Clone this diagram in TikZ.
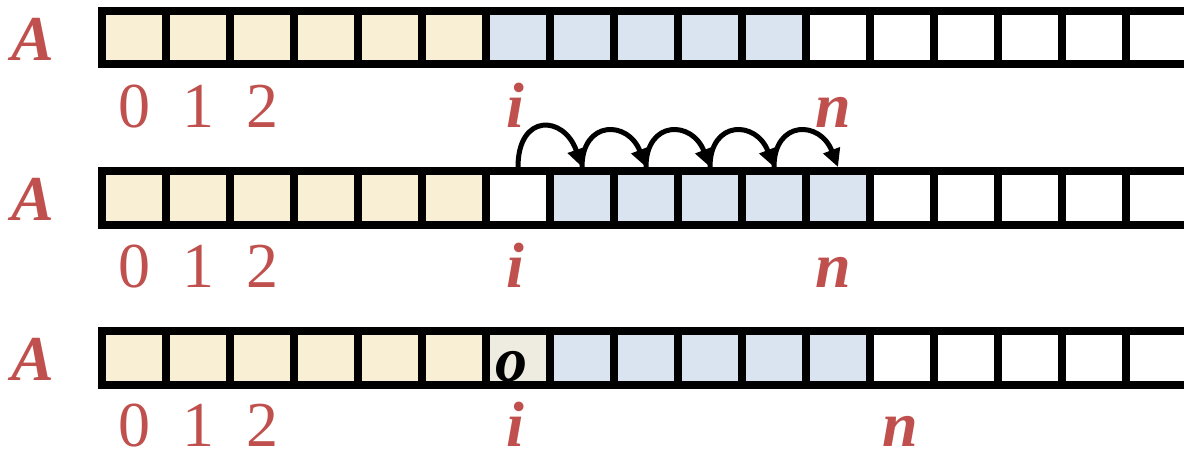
\documentclass[tikz,border=0pt]{standalone}
\usepackage{fontspec}
\setmainfont{Liberation Serif}
\usetikzlibrary{arrows.meta}
\definecolor{lblred}{HTML}{C0504D}
\definecolor{cyel}{HTML}{F8EFD5}
\definecolor{cblue}{HTML}{DAE3F0}
\definecolor{cgray}{HTML}{EEEBE0}
\tikzset{
  gridline/.style={line width=8pt, line join=miter, black},
  lbl/.style={anchor=base, inner sep=0pt, text=lblred, font=\fontsize{64}{70}\selectfont},
  arrname/.style={lbl, font=\fontsize{64}{70}\selectfont\bfseries\itshape},
  idx/.style={lbl, font=\fontsize{64}{70}\selectfont\bfseries\itshape},
  cellval/.style={anchor=base, inner sep=0pt, text=black, font=\fontsize{64}{70}\selectfont\bfseries\itshape},
  shiftarrow/.style={line width=5pt, -{Triangle[length=18pt,width=17pt]}},
}
\begin{document}
\begin{tikzpicture}[x=1pt,y=-1pt]
\useasboundingbox (0,0) rectangle (1184,450);
\clip (0,0) rectangle (1184,450);
% ---- fills ----
\foreach \t in {10.5,171,331}{
  \foreach \k in {0,...,5}
    \fill[cyel] (102+64*\k,\t) rectangle (166+64*\k,\t+53.5);
}
\foreach \k in {6,...,10}
  \fill[cblue] (102+64*\k,10.5) rectangle (166+64*\k,64);
\foreach \k in {7,...,11}{
  \fill[cblue] (102+64*\k,171) rectangle (166+64*\k,224.5);
  \fill[cblue] (102+64*\k,331) rectangle (166+64*\k,384.5);
}
\fill[cgray] (486,331) rectangle (550,384.5);
% ---- grids ----
\foreach \t in {10.5,171,331}{
  \draw[gridline] (1200,\t) -- (102,\t) -- (102,\t+53.5) -- (1200,\t+53.5);
  \foreach \k in {1,...,17}
    \draw[gridline] (102+64*\k,\t) -- (102+64*\k,\t+53.5);
}
% ---- labels ----
\foreach \b/\ab/\n in {127/60/833, 287/220/833, 446/380/900}{
  \node[arrname] at (33,\ab) {A};
  \node[lbl] at (134,\b) {0};
  \node[lbl] at (198,\b) {1};
  \node[lbl] at (262,\b) {2};
  \node[idx] at (515,\b) {i};
  \node[idx] at (\n,\b) {n};
}
\node[cellval] (o) at (511,381) {o};
% ---- shift arrows ----
\foreach \k in {6,...,11}
  \coordinate (p\k) at (518+64*\k-384,167);
\draw[shiftarrow] (p6) .. controls +(0,-54) and +(-18,-52) .. (p7);
\draw[shiftarrow] (p7) .. controls +(0,-47) and +(-18,-47) .. (p8);
\draw[shiftarrow] (p8) .. controls +(0,-47) and +(-18,-47) .. (p9);
\draw[shiftarrow] (p9) .. controls +(0,-47) and +(-18,-47) .. (p10);
\draw[shiftarrow] (p10) .. controls +(0,-47) and +(-18,-47) .. (p11);
\end{tikzpicture}
\end{document}
